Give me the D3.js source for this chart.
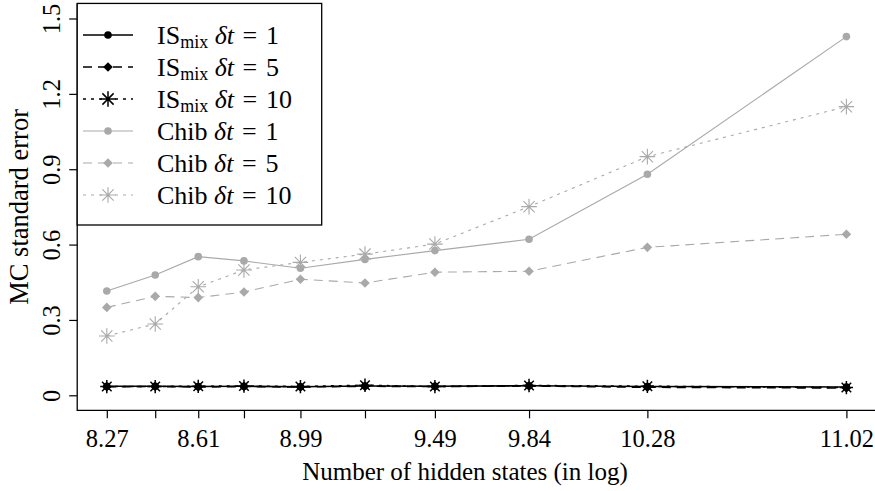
<!DOCTYPE html>
<html>
<head>
<meta charset="utf-8">
<script src="https://cdn.jsdelivr.net/npm/d3@7"></script>
<style>
  html, body { margin: 0; padding: 0; background: #fff; }
  svg { display: block; }
  text { font-family: "Liberation Serif", "DejaVu Serif", serif; fill: #000; }
</style>
</head>
<body>
<svg id="chart" width="875" height="491"></svg>
<script>
// ---- data ----
const logStates = [8.27, 8.45, 8.61, 8.78, 8.99, 9.23, 9.49, 9.84, 10.28, 11.02];
const labeledTicks = [8.27, 8.61, 8.99, 9.49, 9.84, 10.28, 11.02];
const yTicks = [0, 0.3, 0.6, 0.9, 1.2, 1.5];

const isMixDt1  = [0.036, 0.036, 0.035, 0.036, 0.034, 0.037, 0.036, 0.038, 0.035, 0.033];
const isMixDt5  = [0.034, 0.035, 0.033, 0.035, 0.033, 0.036, 0.035, 0.037, 0.032, 0.029];
const isMixDt10 = [0.035, 0.035, 0.036, 0.037, 0.035, 0.040, 0.035, 0.039, 0.036, 0.031];
const chibDt1   = [0.415, 0.479, 0.552, 0.535, 0.506, 0.541, 0.576, 0.621, 0.880, 1.428];
const chibDt5   = [0.350, 0.394, 0.389, 0.411, 0.462, 0.447, 0.490, 0.494, 0.589, 0.641];
const chibDt10  = [0.236, 0.284, 0.432, 0.499, 0.529, 0.562, 0.602, 0.751, 0.950, 1.149];

(function () {
const BLACK = "#000";
const GRAY = "#a9a9a9";
const series = [
  { values: isMixDt1,  method: "IS",   dt: "1",  color: BLACK, dash: null,  lw: 1.6, marker: "circle" },
  { values: isMixDt5,  method: "IS",   dt: "5",  color: BLACK, dash: "9,6", lw: 1.6, marker: "diamond" },
  { values: isMixDt10, method: "IS",   dt: "10", color: BLACK, dash: "3,5", lw: 1.6, marker: "star" },
  { values: chibDt1,   method: "Chib", dt: "1",  color: GRAY,  dash: null,  lw: 1.1, marker: "circle" },
  { values: chibDt5,   method: "Chib", dt: "5",  color: GRAY,  dash: "9,6", lw: 1.1, marker: "diamond" },
  { values: chibDt10,  method: "Chib", dt: "10", color: GRAY,  dash: "3,5", lw: 1.1, marker: "star" }
];

const svg = d3.select("#chart");

const x = d3.scaleLinear().domain([8.27, 11.02]).range([106.8, 846.4]);
const y = d3.scaleLinear().domain([0, 1.5]).range([395.3, 18.5]);
const xr = [8.27 - 0.04 * 2.75, 11.02 + 0.04 * 2.75];
const yr = [-0.06, 1.56];
const pLeft = x(xr[0]), pRight = x(xr[1]), pTop = y(yr[1]), pBottom = y(yr[0]);

svg.append("path")
  .attr("d", `M${pLeft},${pTop}V${pBottom}H${pRight}`)
  .attr("fill", "none").attr("stroke", "#000").attr("stroke-width", 1.3);

const xAxis = d3.axisBottom(x)
  .tickValues(logStates)
  .tickSize(8)
  .tickSizeOuter(0)
  .tickPadding(11)
  .tickFormat(d => labeledTicks.includes(d) ? d3.format(".2f")(d) : "");
const gx = svg.append("g").attr("transform", `translate(0,${pBottom})`).call(xAxis);
gx.select(".domain").remove();
gx.selectAll(".tick line").attr("stroke", "#000").attr("stroke-width", 1.2);
gx.selectAll(".tick text")
  .attr("font-family", "Liberation Serif, serif")
  .attr("font-size", 24.5)
  .attr("fill", "#000");

const yAxis = d3.axisLeft(y)
  .tickValues(yTicks)
  .tickSize(8)
  .tickSizeOuter(0)
  .tickFormat(d => d === 0 ? "0" : d3.format(".1f")(d));
const gy = svg.append("g").attr("transform", `translate(${pLeft},0)`).call(yAxis);
gy.select(".domain").remove();
gy.selectAll(".tick line").attr("stroke", "#000").attr("stroke-width", 1.2);
gy.selectAll(".tick text")
  .attr("font-family", "Liberation Serif, serif")
  .attr("font-size", 24.5)
  .attr("fill", "#000")
  .attr("x", null).attr("dy", null)
  .attr("text-anchor", "middle")
  .attr("transform", "translate(-17,0) rotate(-90)");

svg.append("text")
  .attr("x", 465).attr("y", 480)
  .attr("text-anchor", "middle")
  .attr("font-size", 25)
  .text("Number of hidden states (in log)");
svg.append("text")
  .attr("transform", `translate(28,${(pTop + pBottom) / 2}) rotate(-90)`)
  .attr("text-anchor", "middle")
  .attr("font-size", 26.5)
  .text("MC standard error");

function drawMarker(g, type, cx, cy, color, scale) {
  const s = scale || 1;
  if (type === "circle") {
    g.append("circle").attr("cx", cx).attr("cy", cy).attr("r", 3.8 * s).attr("fill", color);
  } else if (type === "diamond") {
    const h = 4.8 * s;
    g.append("path")
      .attr("d", `M${cx},${cy - h}L${cx + h},${cy}L${cx},${cy + h}L${cx - h},${cy}Z`)
      .attr("fill", color);
  } else {
    const h = 7.8 * s, d = h * 0.72;
    g.append("path")
      .attr("d", `M${cx - h},${cy}H${cx + h}M${cx},${cy - h}V${cy + h}` +
                 `M${cx - d},${cy - d}L${cx + d},${cy + d}M${cx - d},${cy + d}L${cx + d},${cy - d}`)
      .attr("stroke", color).attr("stroke-width", color === BLACK ? 1.5 : 1.1).attr("fill", "none");
  }
}

const line = d3.line().x((d, i) => x(logStates[i])).y(d => y(d));
const order = [3, 4, 5, 0, 1, 2];
order.forEach(k => {
  const s = series[k];
  const g = svg.append("g");
  g.append("path")
    .datum(s.values)
    .attr("d", line)
    .attr("fill", "none")
    .attr("stroke", s.color)
    .attr("stroke-width", s.lw)
    .attr("stroke-dasharray", s.dash);
  s.values.forEach((v, i) => drawMarker(g, s.marker, x(logStates[i]), y(v), s.color,
      s.color === BLACK && s.marker === "star" ? 0.85 : 1));
});

const lg = svg.append("g");
const legW = 321.7 - pLeft, legH = 225 - pTop;
lg.append("rect")
  .attr("x", pLeft).attr("y", pTop).attr("width", legW).attr("height", legH)
  .attr("fill", "#fff").attr("stroke", "#000").attr("stroke-width", 1.3);
series.forEach((s, i) => {
  const ry = 35 + i * 32;
  lg.append("line")
    .attr("x1", 83).attr("x2", 133).attr("y1", ry).attr("y2", ry)
    .attr("stroke", s.color).attr("stroke-width", s.lw)
    .attr("stroke-dasharray", s.dash);
  drawMarker(lg, s.marker, 108, ry, s.color, 1);
  const t = lg.append("text").attr("x", 157).attr("y", ry + 8.5).attr("font-size", 26);
  if (s.method === "IS") {
    t.append("tspan").text("IS");
    t.append("tspan").attr("font-size", 18).attr("dy", 4).text("mix");
    t.append("tspan").attr("dy", -4).text(" ");
  } else {
    t.append("tspan").text("Chib ");
  }
  t.append("tspan").attr("font-style", "italic").text("\u03B4t");
  t.append("tspan").text("\u2004=\u2004" + s.dt);
});
})();
</script>
</body>
</html>
